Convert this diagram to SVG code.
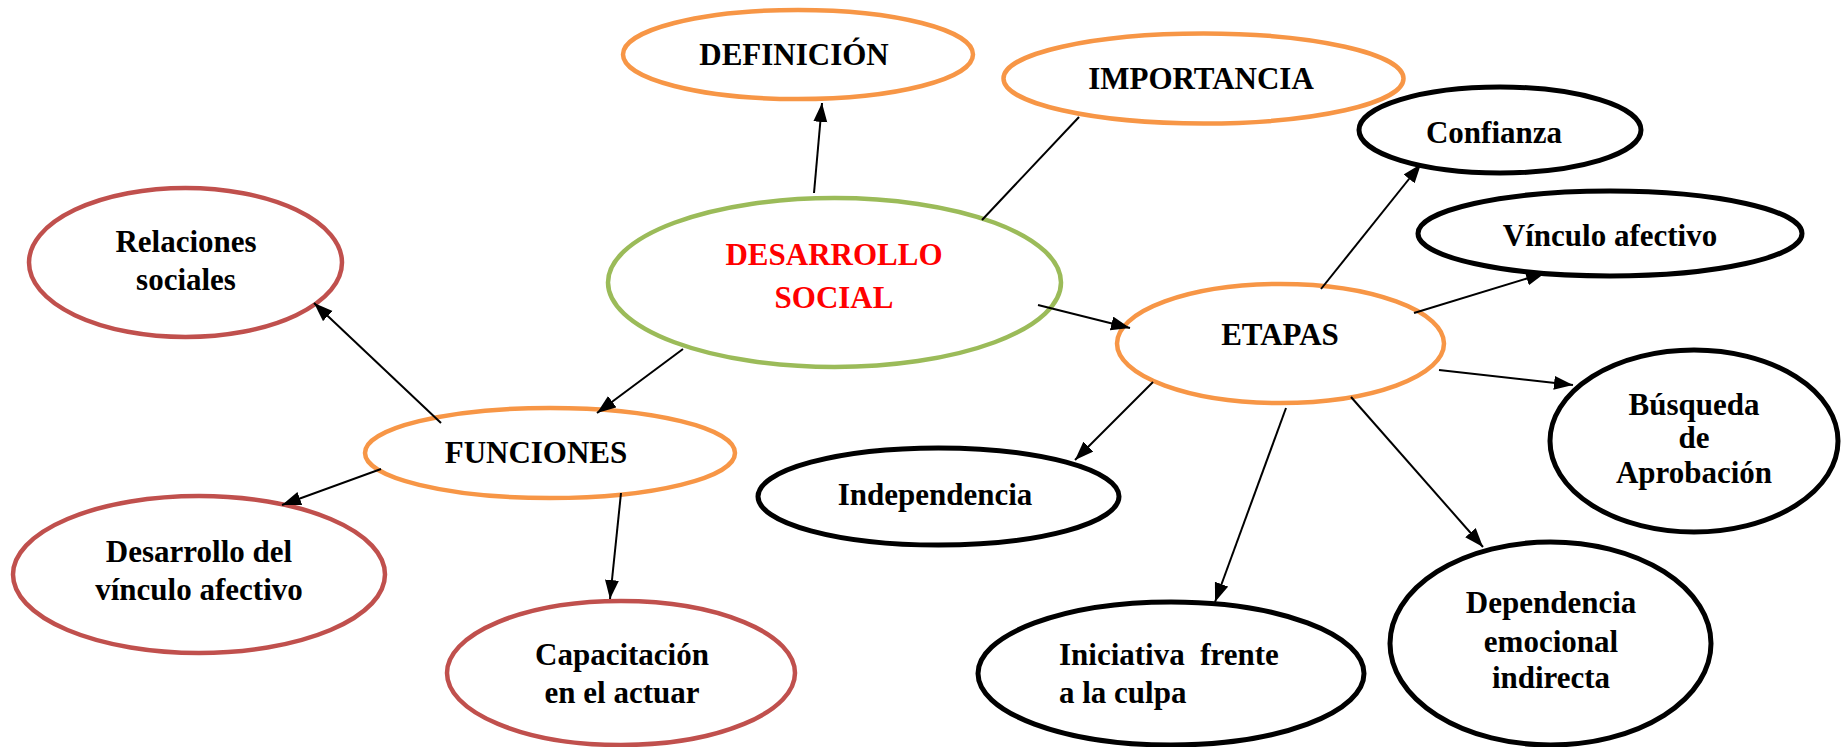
<svg xmlns="http://www.w3.org/2000/svg" width="1847" height="747" viewBox="0 0 1847 747">
<style>
text{font-family:"Liberation Serif","Times New Roman",serif;font-weight:bold;font-size:31px;fill:#000;text-anchor:middle}
.or{fill:#fff;stroke:#F79646;stroke-width:4.5}
.gr{fill:#fff;stroke:#9BBB59;stroke-width:4.5}
.rd{fill:#fff;stroke:#C0504D;stroke-width:4.5}
.bk{fill:#fff;stroke:#000;stroke-width:5}
.ln{stroke:#000;stroke-width:2;fill:none}
.red{fill:#FF0000}
</style>
<defs>
<marker id="ah" markerUnits="userSpaceOnUse" markerWidth="22" markerHeight="16" refX="19" refY="7" orient="auto">
<path d="M0,0 L19,7 L0,14 Z" fill="#000"/>
</marker>
</defs>
<g id="definicion">
<ellipse class="or" cx="798" cy="54.5" rx="175" ry="44.5"/>
<text x="794" y="65">DEFINICIÓN</text>
</g>
<g id="importancia">
<ellipse class="or" cx="1203.5" cy="78.5" rx="200" ry="45"/>
<text x="1201" y="89">IMPORTANCIA</text>
</g>
<g id="confianza">
<ellipse class="bk" cx="1500" cy="130" rx="141" ry="43"/>
<text x="1494" y="143">Confianza</text>
</g>
<g id="vinculo">
<ellipse class="bk" cx="1610" cy="233.5" rx="192" ry="42.5"/>
<text x="1610" y="246">Vínculo afectivo</text>
</g>
<g id="desarrollo-social">
<ellipse class="gr" cx="834.5" cy="282.5" rx="226.5" ry="84.5"/>
<text class="red" x="834" y="265">DESARROLLO</text>
<text class="red" x="834" y="308">SOCIAL</text>
</g>
<g id="etapas">
<ellipse class="or" cx="1280.5" cy="343.5" rx="163.5" ry="59.5"/>
<text x="1280" y="345">ETAPAS</text>
</g>
<g id="relaciones">
<ellipse class="rd" cx="185.5" cy="262.5" rx="156.5" ry="74.5"/>
<text x="186" y="252">Relaciones</text>
<text x="186" y="290">sociales</text>
</g>
<g id="funciones">
<ellipse class="or" cx="550" cy="453" rx="185" ry="45"/>
<text x="536" y="463">FUNCIONES</text>
</g>
<g id="desarrollo-vinculo">
<ellipse class="rd" cx="199" cy="574.5" rx="186" ry="78.5"/>
<text x="199" y="562">Desarrollo del</text>
<text x="199" y="600">vínculo afectivo</text>
</g>
<g id="capacitacion">
<ellipse class="rd" cx="621" cy="673" rx="174" ry="72"/>
<text x="622" y="665">Capacitación</text>
<text x="622" y="703">en el actuar</text>
</g>
<g id="independencia">
<ellipse class="bk" cx="938.5" cy="496.5" rx="180.5" ry="48.5"/>
<text x="935" y="505">Independencia</text>
</g>
<g id="busqueda">
<ellipse class="bk" cx="1694" cy="441" rx="144" ry="91"/>
<text x="1694" y="415">Búsqueda</text>
<text x="1694" y="448">de</text>
<text x="1694" y="483">Aprobación</text>
</g>
<g id="dependencia">
<ellipse class="bk" cx="1550.5" cy="643.5" rx="160.5" ry="101.5"/>
<text x="1551" y="613">Dependencia</text>
<text x="1551" y="652">emocional</text>
<text x="1551" y="688">indirecta</text>
</g>
<g id="iniciativa">
<ellipse class="bk" cx="1171" cy="673.5" rx="193" ry="71.5"/>
<text x="1059" y="665" style="text-anchor:start;white-space:pre">Iniciativa  frente</text>
<text x="1059" y="703" style="text-anchor:start">a la culpa</text>
</g>
<g id="connectors">
<line class="ln" x1="814" y1="193" x2="822" y2="103" marker-end="url(#ah)"/>
<line class="ln" x1="982" y1="220" x2="1079" y2="117"/>
<line class="ln" x1="1038" y1="305" x2="1130" y2="328" marker-end="url(#ah)"/>
<line class="ln" x1="1321" y1="289" x2="1421" y2="164" marker-end="url(#ah)"/>
<line class="ln" x1="1414" y1="313" x2="1545" y2="273" marker-end="url(#ah)"/>
<line class="ln" x1="1439" y1="370" x2="1573" y2="385" marker-end="url(#ah)"/>
<line class="ln" x1="1153" y1="382" x2="1075" y2="460" marker-end="url(#ah)"/>
<line class="ln" x1="1286" y1="408" x2="1215" y2="602" marker-end="url(#ah)"/>
<line class="ln" x1="1351" y1="397" x2="1483" y2="547" marker-end="url(#ah)"/>
<line class="ln" x1="683" y1="349" x2="597" y2="413" marker-end="url(#ah)"/>
<line class="ln" x1="441" y1="423" x2="314" y2="303" marker-end="url(#ah)"/>
<line class="ln" x1="381" y1="469" x2="282" y2="505" marker-end="url(#ah)"/>
<line class="ln" x1="621" y1="493" x2="610" y2="599" marker-end="url(#ah)"/>
</g>
</svg>
